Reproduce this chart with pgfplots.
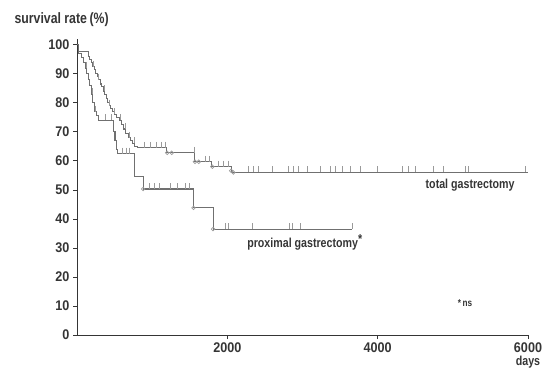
\documentclass[border=0pt]{standalone}
\usepackage{fontspec}
\setmainfont{Liberation Sans}[FakeStretch=0.82]
\newfontfamily\numfont{Liberation Sans}[FakeStretch=0.9]
\usepackage{pgfplots}
\pgfplotsset{compat=1.18}
\definecolor{ln}{HTML}{707070}
\definecolor{cen}{HTML}{9A9A9A}
\definecolor{tx}{HTML}{353535}
\pgfplotstableread{
x y
0 100
25 97.6
140 97.6
150 96
170 95
190 94
210 92.5
230 91.5
250 90
270 89
290 88
310 86.5
330 85.5
350 84
370 83
390 81.5
410 80
430 79
450 78
470 77
500 76
530 75
560 74
590 72.5
620 71
650 69.5
680 68
710 67
740 66
770 65
800 64.5
1190 64.5
1190 62.8
1560 62.8
1560 59.7
1790 59.7
1790 58
2050 58
2050 56
6000 56
}\totaltab
\pgfplotstableread{
x y
0 100
15 97
60 95.5
90 94
110 92
130 90
150 88
170 86
190 83
210 80
230 77
260 75.5
290 74
480 74
490 70
505 67
520 64
540 62.5
750 62.5
760 58
770 54.5
880 54.5
890 50.3
1550 50.3
1550 43.8
1810 43.8
1810 36.5
3660 36.5
}\proxtab
\pgfplotstableread{
x y
220 92.5
290 88
360 84
430 79
500 76
570 74
640 71
700 68
760 66
900 64.5
980 64.5
1050 64.5
1120 64.5
1180 64.5
1556 62.8
1702 59.7
1760 59.7
1875 58
1942 58
2008 58
2274 56
2341 56
2407 56
2594 56
2806 56
2873 56
2939 56
3059 56
3232 56
3365 56
3431 56
3525 56
3631 56
3764 56
3990 56
4323 56
4403 56
4496 56
4735 56
4868 56
5160 56
5200 56
5960 56
}\totalcen
\pgfplotstableread{
x y
120 92
200 83
250 77
380 74
450 74
600 62.5
650 62.5
700 62.5
960 50.3
1030 50.3
1100 50.3
1240 50.3
1340 50.3
1440 50.3
1500 50.3
1970 36.5
2010 36.5
2330 36.5
2830 36.5
2870 36.5
2970 36.5
3660 36.5
}\proxcen
\pgfplotstableread{
x y
1200 62.8
1260 62.8
1570 59.7
1620 59.7
1800 58
2050 56.6
2080 56
880 50.3
1550 43.8
1810 36.5
}\circs
\begin{document}
\begin{tikzpicture}[x=1pt,y=1pt]
\useasboundingbox (-77,-33) rectangle (476,335);
\begin{axis}[
  at={(0,0)}, anchor=south west,
  scale only axis, width=451pt, height=296pt,
  xmin=0, xmax=6000, ymin=0, ymax=102,
  axis lines*=left,
  axis line style={tx, line width=1pt},
  xtick={2000,4000,6000},
  ytick={0,10,...,100},
  tick align=outside,
  major tick length=4pt,
  tick style={tx, line width=0.8pt},
  ticklabel style={font=\numfont\bfseries\fontsize{14}{16}\selectfont, text=tx},
  /pgf/number format/assume math mode=true,
  /pgf/number format/set thousands separator={},
  scaled x ticks=false,
  clip=false,
]
\addplot[const plot, ln, line width=1.1pt] table {\totaltab};
\addplot[const plot, ln, line width=1.1pt] table {\proxtab};
\addplot[only marks, mark=|, mark size=3pt, cen, mark options={yshift=3pt, line width=0.6pt}] table {\totalcen};
\addplot[only marks, mark=|, mark size=3pt, cen, mark options={yshift=3pt, line width=0.6pt}] table {\proxcen};
\addplot[only marks, mark=o, mark size=1.8pt, cen, mark options={line width=0.7pt}] table {\circs};
\node[font=\bfseries\fontsize{13}{15}\selectfont, text=tx] at (axis cs:5230,51.5) {total gastrectomy};
\node[font=\bfseries\fontsize{13}{15}\selectfont, text=tx] at (axis cs:3030,32) {proximal gastrectomy\raisebox{0.6ex}{*}};
\node[font=\bfseries\fontsize{10}{12}\selectfont, text=tx, anchor=west] at (axis cs:5020,11) {*\,ns};
\node[font=\bfseries\fontsize{13}{15}\selectfont, text=tx] at (axis cs:6000,0) [yshift=-27pt] {days};
\end{axis}
\node[anchor=west, font=\bfseries\fontsize{15}{17}\selectfont, text=tx] at (-66,315) {survival rate\,(\%)};
\end{tikzpicture}
\end{document}
